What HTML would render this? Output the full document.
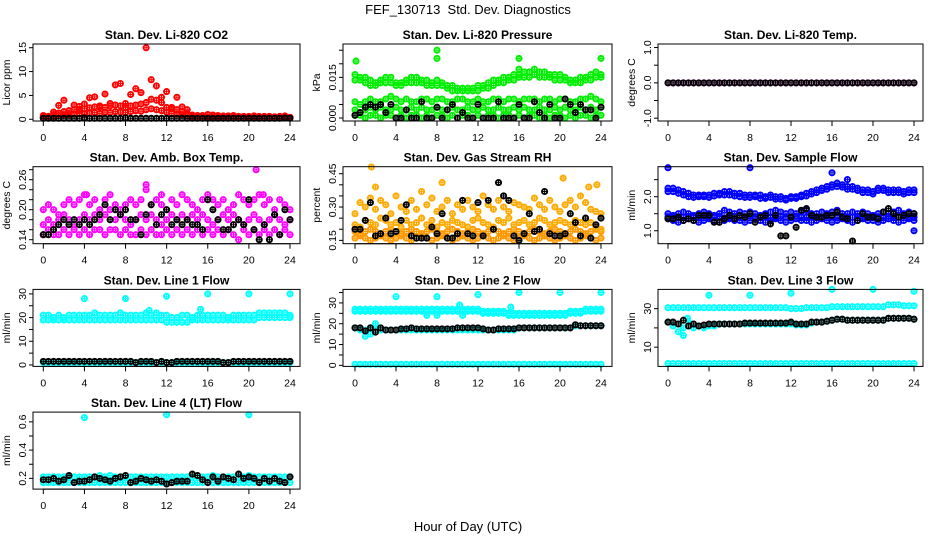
<!DOCTYPE html>
<html><head><meta charset="utf-8"><style>
html,body{margin:0;padding:0;background:#fff}
svg{display:block;font-family:"Liberation Sans",sans-serif}
</style></head><body>
<svg id="chart" width="936" height="540" viewBox="0 0 936 540">
<text x="468" y="14" font-size="13" text-anchor="middle">FEF_130713&#160; Std. Dev. Diagnostics</text>
<text x="468" y="531" font-size="13" text-anchor="middle">Hour of Day (UTC)</text>
</svg>
<script>
const hours=[0,0.5,1,1.5,2,2.5,3,3.5,4,4.5,5,5.5,6,6.5,7,7.5,8,8.5,9,9.5,10,10.5,11,11.5,12,12.5,13,13.5,14,14.5,15,15.5,16,16.5,17,17.5,18,18.5,19,19.5,20,20.5,21,21.5,22,22.5,23,23.5,24];
const xTicks=[0,4,8,12,16,20,24];
// CO2
const co2RedHi=[0.8,0.6,1.5,2.9,4.0,1.8,3.0,2.7,3.2,4.5,4.7,2.8,5.3,3.3,7.2,7.5,3.3,5.2,6.4,5.6,15.0,8.3,7.0,4.6,5.8,2.5,4.6,2.6,2.0,0.9,0.8,0.8,1.0,0.9,0.8,0.7,0.7,0.8,0.6,0.6,0.6,0.7,0.6,0.6,0.6,0.5,0.6,0.7,0.4];
const co2RedMid=[0.5,0.6,1.0,1.3,1.6,1.8,2.0,2.0,2.2,2.4,2.6,2.5,2.5,2.8,3.0,2.8,2.5,2.8,3.0,3.2,3.5,4.2,4.0,3.5,2.5,2.2,2.0,1.6,1.2,0.6,0.5,0.5,0.5,0.5,0.5,0.5,0.5,0.5,0.5,0.5,0.5,0.5,0.5,0.5,0.5,0.5,0.5,0.5,0.4];
const co2RedLo=[0.3,0.4,0.6,0.8,0.9,1.0,1.1,1.2,1.1,1.3,1.4,1.2,1.5,1.4,1.6,1.5,1.4,1.6,1.8,1.7,2.0,2.2,2.0,1.8,1.5,1.2,1.1,0.9,0.7,0.4,0.3,0.3,0.3,0.3,0.3,0.3,0.3,0.3,0.3,0.3,0.3,0.3,0.3,0.3,0.3,0.3,0.3,0.3,0.3];
const co2Black=[0.2,0.2,0.2,0.2,0.2,0.2,0.2,0.2,0.3,0.2,0.2,0.2,0.2,0.2,0.2,0.2,0.3,0.2,0.2,0.2,0.2,0.2,0.2,0.2,0.2,0.2,0.2,0.2,0.2,0.2,0.2,0.2,0.2,0.2,0.2,0.2,0.2,0.2,0.2,0.2,0.2,0.2,0.2,0.2,0.2,0.2,0.2,0.3,0.2];
// Pressure (Pa; axis in kPa)
const presUpA=[16,15,15,14,13,14,15,15,13,13,14,15,15,14,14,13,14,13,12,12,11,11,11,11,12,12,13,14,14,15,15,16,16,17,17,18,17,17,16,16,16,15,14,14,15,15,16,17,16];
const presUpB=[14,14,13,12,12,13,13,13,12,12,13,13,13,13,12,12,12,12,11,10,10,10,10,10,10,11,11,12,13,13,14,14,15,15,15,16,15,15,15,14,14,14,13,13,13,14,14,15,15];
const presLoA=[6,5,6,7,6,6,7,8,7,6,7,6,6,7,7,6,7,7,6,6,7,7,6,6,7,6,6,7,7,6,7,7,6,7,7,7,6,7,7,6,7,7,6,6,7,7,8,7,6];
const presLoB=[3,2,3,4,3,4,3,3,4,3,3,4,3,4,3,3,4,3,3,4,3,3,4,3,3,4,3,3,4,3,3,4,3,4,3,3,4,3,3,4,3,4,3,3,4,3,4,3,4];
const presLoC=[1,1,0,1,1,0,1,1,0,1,0,1,1,0,1,0,1,1,0,1,0,1,1,0,1,0,1,1,0,1,1,0,1,0,1,1,0,1,0,1,1,0,1,0,1,1,0,1,1];
const presBlack=[1,2,4,5,4,5,2,5,0,0,3,0,0,6,0,0,4,0,3,5,0,2,0,0,5,0,0,0,6,0,0,0,5,0,0,6,2,0,5,0,0,7,5,2,5,3,3,0,4];
const presOutX=[0.1,8,8,16,16,24];
const presOutY=[21,25,22,22,18,22];
// Li-820 temp
const tempMag=[0,0,0,0,0,0,0,0,0,0,0,0,0,0,0,0,0,0,0,0,0,0,0,0,0,0,0,0,0,0,0,0,0,0,0,0,0,0,0,0,0,0,0,0,0,0,0,0,0];
const tempBlack=[0,0,0,0,0,0,0,0,0,0,0,0,0,0,0,0,0,0,0,0,0,0,0,0,0,0,0,0,0,0,0,0,0,0,0,0,0,0,0,0,0,0,0,0,0,0,0,0,0];
// Amb box temp
const ambHi=[.20,.21,.20,.19,.21,.22,.21,.22,.23,.21,.22,.20,.22,.23,.21,.20,.21,.22,.21,.22,.24,.21,.22,.21,.20,.22,.21,.23,.22,.21,.20,.22,.23,.22,.21,.22,.20,.21,.23,.22,.21,.22,.23,.21,.22,.20,.22,.21,.20];
const ambMid=[.17,.18,.17,.18,.19,.18,.17,.18,.19,.18,.19,.18,.19,.20,.18,.19,.18,.17,.18,.19,.18,.19,.18,.17,.18,.19,.18,.19,.18,.19,.18,.19,.18,.17,.18,.19,.18,.19,.18,.17,.18,.19,.18,.17,.18,.19,.18,.17,.18];
const ambLo=[.15,.16,.15,.15,.16,.15,.16,.15,.16,.15,.16,.16,.15,.16,.16,.15,.16,.15,.15,.16,.15,.16,.15,.15,.16,.15,.16,.15,.16,.15,.16,.15,.16,.15,.16,.15,.16,.15,.14,.16,.15,.16,.15,.16,.15,.16,.15,.16,.15];
const ambBlack=[.15,.15,.16,.17,.18,.17,.18,.17,.18,.17,.18,.19,.21,.18,.20,.19,.20,.18,.18,.15,.19,.21,.17,.19,.20,.17,.18,.17,.18,.17,.17,.16,.22,.20,.18,.16,.16,.17,.18,.17,.22,.16,.14,.17,.14,.19,.15,.20,.18];
const ambOutX=[4.2,10,11.5,20.7,21.4];
const ambOutY=[.23,.25,.23,.28,.23];
// Gas stream RH
const rhHi=[.27,.32,.30,.34,.29,.33,.31,.27,.35,.30,.28,.33,.29,.37,.31,.34,.28,.30,.33,.27,.31,.29,.33,.30,.28,.35,.31,.29,.33,.30,.28,.32,.31,.30,.29,.34,.31,.29,.33,.30,.28,.31,.33,.30,.35,.32,.29,.28,.27];
const rhMid=[.22,.21,.24,.23,.22,.25,.24,.22,.23,.21,.24,.22,.23,.25,.22,.24,.21,.23,.22,.24,.23,.22,.21,.24,.25,.23,.22,.21,.24,.23,.25,.22,.23,.24,.22,.23,.25,.24,.22,.23,.24,.23,.22,.24,.23,.22,.23,.21,.20];
const rhLoA=[.19,.18,.19,.20,.19,.18,.19,.20,.19,.18,.19,.20,.19,.18,.19,.20,.19,.18,.19,.20,.19,.18,.19,.20,.19,.18,.19,.20,.19,.18,.19,.20,.19,.18,.19,.20,.19,.18,.19,.20,.19,.18,.19,.20,.19,.18,.19,.20,.19];
const rhLoB=[.16,.17,.16,.15,.16,.17,.16,.15,.16,.17,.16,.15,.16,.17,.16,.15,.16,.17,.16,.15,.16,.17,.16,.15,.16,.17,.16,.15,.16,.17,.16,.15,.16,.17,.16,.15,.16,.17,.16,.15,.16,.17,.16,.15,.16,.17,.16,.15,.16];
const rhBlack=[.20,.20,.24,.32,.17,.18,.25,.18,.19,.24,.31,.17,.16,.16,.16,.21,.18,.27,.16,.16,.18,.33,.18,.17,.32,.17,.33,.20,.41,.35,.33,.17,.15,.18,.27,.19,.20,.37,.18,.17,.17,.18,.27,.23,.17,.25,.16,.22,.25];
const rhOutX=[1.6,2,8.5,20.3,22.8,23.6];
const rhOutY=[.48,.39,.41,.43,.39,.40];
// Sample flow
const sfHiA=[2.25,2.25,2.2,2.15,2.1,2.05,2.05,2.05,2.05,2.1,2.1,2.15,2.15,2.1,2.1,2.05,2.05,2.05,2.05,2.0,2.05,2.0,2.0,1.95,2.0,2.0,2.05,2.1,2.15,2.2,2.25,2.3,2.35,2.4,2.35,2.3,2.3,2.25,2.2,2.2,2.15,2.25,2.25,2.2,2.2,2.2,2.15,2.2,2.2];
const sfHiB=[2.15,2.15,2.1,2.05,2.0,1.98,2.0,2.0,1.98,2.02,2.05,2.05,2.05,2.02,2.0,1.98,1.98,2.0,1.95,1.95,1.98,1.93,1.93,1.9,1.95,1.95,2.0,2.02,2.08,2.12,2.18,2.22,2.28,2.3,2.28,2.22,2.22,2.18,2.12,2.12,2.08,2.18,2.18,2.12,2.12,2.12,2.08,2.12,2.12];
const sfLoA=[1.5,1.45,1.5,1.55,1.5,1.45,1.5,1.55,1.5,1.45,1.5,1.6,1.55,1.5,1.55,1.5,1.55,1.5,1.45,1.5,1.55,1.6,1.55,1.5,1.55,1.5,1.55,1.6,1.5,1.5,1.55,1.5,1.55,1.6,1.5,1.5,1.55,1.5,1.55,1.5,1.45,1.5,1.55,1.5,1.55,1.6,1.5,1.55,1.5];
const sfLoB=[1.35,1.3,1.25,1.3,1.35,1.3,1.25,1.3,1.35,1.3,1.25,1.3,1.35,1.3,1.3,1.25,1.3,1.35,1.3,1.25,1.3,1.35,1.3,1.25,1.3,1.35,1.3,1.3,1.25,1.3,1.35,1.3,1.25,1.3,1.35,1.3,1.25,1.3,1.35,1.3,1.3,1.25,1.3,1.35,1.3,1.25,1.3,1.35,1.3];
const sfLoC=[1.4,1.42,1.38,1.4,1.42,1.4,1.38,1.42,1.4,1.4,1.42,1.38,1.4,1.42,1.4,1.38,1.42,1.4,1.4,1.42,1.38,1.4,1.42,1.4,1.38,1.42,1.4,1.4,1.42,1.38,1.4,1.42,1.4,1.38,1.42,1.4,1.4,1.42,1.38,1.4,1.42,1.4,1.38,1.42,1.4,1.4,1.42,1.38,1.4];
const sfBlack=[1.35,1.35,1.4,1.3,1.35,1.3,1.45,1.45,1.45,1.25,1.25,1.35,1.45,1.35,1.45,1.4,1.5,1.25,1.4,1.45,1.2,1.45,0.85,0.85,1.4,1.1,1.6,1.65,1.45,1.4,1.4,1.45,1.45,1.55,1.4,1.35,0.7,1.3,1.5,1.4,1.4,1.35,1.55,1.65,1.5,1.4,1.45,1.5,1.5];
const sfOutX=[0,8,16,17.5,24];
const sfOutY=[2.85,2.85,2.7,2.5,1.0];
// Line 1
const l1HiA=[21,21,20,21,20,21,21,21,21,21,22,21,21,21,21,22,21,21,21,21,22,21,22,21,21,20,20,21,21,20,21,21,21,21,21,21,20,21,21,21,21,21,22,22,22,22,22,22,21];
const l1HiB=[19,19,19,19,19,19,19,19,19,19,19,19,19,19,19,19,19,19,19,19,19,19,19,19,18,18,18,18,18,19,19,19,19,19,19,19,19,19,19,19,19,19,20,20,20,20,20,20,20];
const l1Lo=[1,1,1,1,1,1,1,1,1,1,1,1,1,1,1,1,1,1,1,1,1,1,1,1,1,1,1,1,1,1,1,1,1,1,1,1,1,1,1,1,1,1,1,1,1,1,1,1,1];
const l1Black=[1.5,1.5,1.5,1.5,1.5,1.5,1.5,1.5,1.5,1.5,1.5,1.5,1.5,1.5,1.5,1.5,1.5,1.5,1.0,1.5,1.5,1.5,1.0,1.5,1.0,1.0,1.5,1.5,1.5,1.5,1.5,1.5,1.5,1.5,1.5,1.0,1.0,1.5,1.5,1.5,1.5,1.5,1.5,1.5,1.5,1.5,1.5,1.5,1.5];
const l1OutX=[4,8,12,16,20,24,10.3,15.3];
const l1OutY=[28,28,29,30,30,30,23,23.5];
// Line 2
const l2HiA=[27,27,27,27,27,27,27,27,27,27,27,27,27,27,27,27,27,27,27,27,27,27,27,27,27,26,26,26,26,26,25,25,25,25,25,25,25,25,25,25,25,25,26,26,26,27,27,27,27];
const l2HiB=[26,26,26,26,26,26,26,26,26,26,26,26,26,26,26,26,26,26,26,26,26,26,26,26,26,25,25,25,25,25,24,24,24,24,24,24,24,24,24,24,24,24,25,25,25,26,26,26,26];
const l2Mid=[18,17,17,18,17,17,17,17,17,17,17,17,17,17,17,17,17,17,17,17,17,17,17,17,17,17,17,17,17,17,17,17,18,18,18,18,18,18,18,18,18,18,18,19,19,19,19,19,19];
const l2Lo=[0.5,0.5,0.5,0.5,0.5,0.5,0.5,0.5,0.5,0.5,0.5,0.5,0.5,0.5,0.5,0.5,0.5,0.5,0.5,0.5,0.5,0.5,0.5,0.5,0.5,0.5,0.5,0.5,0.5,0.5,0.5,0.5,0.5,0.5,0.5,0.5,0.5,0.5,0.5,0.5,0.5,0.5,0.5,0.5,0.5,0.5,0.5,0.5,0.5];
const l2Black=[18,18,16.5,18,16,18,17,17,17,17.5,17.5,18,17.5,17.5,17.5,17.5,17.5,17.5,17.5,17.5,18,18,18,18,18,17.5,17,17,17.5,17.5,17.5,17.5,18,18,18,18,18,18,18,18,18,18,18,19.5,19,19,19,19,19];
const l2OutX=[4,8,12,16,20,24,7,8,10.2,10.5,15.2,1,1.5,2];
const l2OutY=[33,33,34,35,35,35,24,24,29,24,28,14,15,20];
// Line 3
const l3Hi=[30.5,30.5,30.5,30.5,30.5,30.5,30.5,30.5,30.5,30.5,30.5,30.5,30.5,30.5,30.5,30.5,30.5,30.5,30.5,30.5,30.5,30.5,30.5,30.5,30,30,30,30.5,30.5,30.5,30.5,30.5,31,31,31,31,31,31,31,31,31,31,31,32,32,32,31.5,31.5,31.5];
const l3Mid=[23,21,22,20,23,20,21,20,21,21,22,22,22,22,22,22,22,22,22,22,22,22,22,22,22,21.5,21.5,21.5,22.5,23,23,23.5,24,24.5,24.5,24,24,24,24,24,24,24,24,25,25,25,25,25,24.5];
const l3Lo=[1.5,1.5,1.5,1.5,1.5,1.5,1.5,1.5,1.5,1.5,1.5,1.5,1.5,1.5,1.5,1.5,1.5,1.5,1.5,1.5,1.5,1.5,1.5,1.5,1.5,1.5,1.5,1.5,1.5,1.5,1.5,1.5,1.5,1.5,1.5,1.5,1.5,1.5,1.5,1.5,1.5,1.5,1.5,1.5,1.5,1.5,1.5,1.5,1.5];
const l3Black=[23,23,22,24,21,22,21,21.5,22,22,22,22,22,22,22,22.5,22.5,22.5,22.5,22.5,22.5,22.5,22.5,22.5,23,22,22,22,23,23,23,23.5,24,24.5,24.5,24,24,24,24,24,24,24,24,25,25,25,25,25,24.5];
const l3OutX=[4,8,12,16,20,24,1,1.5,1.9];
const l3OutY=[37,37,38,40,40,39,18,16,25];
// Line 4
const l4HiA=[.21,.21,.21,.21,.21,.21,.21,.21,.21,.21,.21,.22,.21,.22,.21,.21,.21,.21,.21,.21,.21,.21,.21,.21,.21,.21,.21,.21,.21,.21,.21,.21,.21,.22,.21,.21,.21,.21,.21,.21,.22,.21,.21,.21,.21,.21,.21,.21,.21];
const l4Lo=[.17,.17,.17,.17,.17,.17,.17,.17,.17,.17,.17,.17,.17,.17,.17,.17,.17,.17,.17,.17,.17,.17,.17,.17,.17,.17,.17,.17,.17,.17,.17,.17,.17,.17,.17,.17,.17,.17,.17,.17,.17,.17,.17,.17,.17,.17,.17,.17,.17];
const l4Black=[.19,.19,.20,.18,.19,.22,.17,.18,.18,.19,.21,.20,.19,.18,.20,.21,.22,.17,.18,.20,.19,.18,.19,.18,.16,.17,.18,.18,.18,.23,.22,.19,.17,.21,.18,.21,.20,.19,.23,.20,.21,.20,.17,.20,.18,.20,.18,.17,.21];
const l4OutX=[4,12,20];
const l4OutY=[0.63,0.65,0.65];

const NS='http://www.w3.org/2000/svg';
const svg=document.getElementById('chart');
const cols=[{l:33,r:300,x0:43.3,x24:290},{l:343,r:612,x0:355,x24:601},{l:658,r:923,x0:668,x24:914}];
function mk(tag,attrs,parent){const e=document.createElementNS(NS,tag);for(const k in attrs)e.setAttribute(k,attrs[k]);(parent||svg).appendChild(e);return e;}

const panels=[
 {c:0,r:0,title:'Stan. Dev. Li-820 CO2',ylab:'Licor ppm',vb:-0.36,vt:15.78,ticks:[0,5,10,15],labs:['0','5','10','15'],
  series:[[hours,co2RedLo,'#ff0000'],[hours,co2RedMid,'#ff0000'],[hours,co2RedHi,'#ff0000'],[hours,co2Black,'#000000']]},
 {c:1,r:0,title:'Stan. Dev. Li-820 Pressure',ylab:'kPa',vb:-1.1,vt:27.3,ticks:[0,5,10,15,20,25],labs:['0.000','','','0.015','',''],
  series:[[hours,presUpA,'#00ee00'],[hours,presUpB,'#00ee00'],[hours,presLoA,'#00ee00'],[hours,presLoB,'#00ee00'],[hours,presLoC,'#00ee00'],[presOutX,presOutY,'#00ee00'],[hours,presBlack,'#000000']]},
 {c:2,r:0,title:'Stan. Dev. Li-820 Temp.',ylab:'degrees C',vb:-1.08,vt:1.10,ticks:[-1,-0.5,0,0.5,1],labs:['-1.0','','0.0','','1.0'],
  series:[[hours,tempMag,'#ff00ff'],[hours,tempBlack,'#000000']]},
 {c:0,r:1,title:'Stan. Dev. Amb. Box Temp.',ylab:'degrees C',vb:0.132,vt:0.286,ticks:[.14,.16,.18,.20,.22,.24,.26,.28],labs:['0.14','','','0.20','','','0.26',''],
  series:[[hours,ambLo,'#ff00ff'],[hours,ambMid,'#ff00ff'],[hours,ambHi,'#ff00ff'],[ambOutX,ambOutY,'#ff00ff'],[hours,ambBlack,'#000000']]},
 {c:1,r:1,title:'Stan. Dev. Gas Stream RH',ylab:'percent',vb:0.135,vt:0.4815,ticks:[.15,.20,.25,.30,.35,.40,.45],labs:['0.15','','','0.30','','','0.45'],
  series:[[hours,rhLoB,'#ff9900'],[hours,rhLoA,'#ff9900'],[hours,rhMid,'#ffaa00'],[hours,rhHi,'#ffaa00'],[rhOutX,rhOutY,'#ffaa00'],[hours,rhBlack,'#000000']]},
 {c:2,r:1,title:'Stan. Dev. Sample Flow',ylab:'ml/min',vb:0.62,vt:2.88,ticks:[1.0,1.5,2.0,2.5],labs:['1.0','','2.0',''],
  series:[[hours,sfHiA,'#0000ff'],[hours,sfHiB,'#0000ff'],[hours,sfLoA,'#0000ff'],[hours,sfLoB,'#0000ff'],[hours,sfLoC,'#0000ff'],[sfOutX,sfOutY,'#0000ff'],[hours,sfBlack,'#000000']]},
 {c:0,r:2,title:'Stan. Dev. Line 1 Flow',ylab:'ml/min',vb:-0.6,vt:31.9,ticks:[0,5,10,15,20,25,30],labs:['0','','10','','20','','30'],
  series:[[hours,l1HiA,'#00ffff'],[hours,l1HiB,'#00ffff'],[hours,l1Lo,'#00ffff'],[l1OutX,l1OutY,'#00ffff'],[hours,l1Black,'#000000']]},
 {c:1,r:2,title:'Stan. Dev. Line 2 Flow',ylab:'ml/min',vb:-0.5,vt:36.5,ticks:[0,5,10,15,20,25,30,35],labs:['0','','10','','20','','30',''],
  series:[[hours,l2HiA,'#00ffff'],[hours,l2HiB,'#00ffff'],[hours,l2Mid,'#00ffff'],[hours,l2Lo,'#00ffff'],[l2OutX,l2OutY,'#00ffff'],[hours,l2Black,'#000000']]},
 {c:2,r:2,title:'Stan. Dev. Line 3 Flow',ylab:'ml/min',vb:0,vt:40,ticks:[10,20,30],labs:['10','','30'],
  series:[[hours,l3Hi,'#00ffff'],[hours,l3Mid,'#00ffff'],[hours,l3Lo,'#00ffff'],[l3OutX,l3OutY,'#00ffff'],[hours,l3Black,'#000000']]},
 {c:0,r:3,title:'Stan. Dev. Line 4 (LT) Flow',ylab:'ml/min',vb:0.124,vt:0.669,ticks:[.2,.3,.4,.5,.6],labs:['0.2','','0.4','','0.6'],
  series:[[hours,l4Lo,'#00ffff'],[hours,l4HiA,'#00ffff'],[l4OutX,l4OutY,'#00ffff'],[hours,l4Black,'#000000']]}
];

panels.forEach((p,pi)=>{
  const col=cols[p.c];
  const top=44+p.r*122.7, bot=top+77;
  const g=mk('g',{});
  
  
  const xs=h=>col.x0+(h/24)*(col.x24-col.x0);
  const ys=v=>bot-(v-p.vb)/(p.vt-p.vb)*77;
  const t=mk('text',{x:(col.l+col.r)/2,y:top-5,'font-size':'12','font-weight':'bold','text-anchor':'middle'},g);
  t.textContent=p.title;
  
  
  p.series.forEach(s=>{
    const sg=mk('g',{fill:'none',stroke:s[2],'stroke-width':'1.9'},g);
    
    
    s[0].forEach((h,i)=>{
      const v=s[1][i]; if(v===undefined)return;
      const cx=xs(h), cy=ys(v);
      const c=mk('circle',{cx:cx.toFixed(1),cy:cy.toFixed(1),r:'2.6'},sg);
      
      
      const cr=mk('path',{d:`M${(cx-3).toFixed(1)} ${cy.toFixed(1)}h6M${cx.toFixed(1)} ${(cy-3).toFixed(1)}v6`,'stroke-width':'1'},sg);
      
      
    });
  });
  const box=mk('rect',{x:col.l,y:top,width:col.r-col.l,height:77,fill:'none',stroke:'#000','stroke-width':'1'},g);
  
  
  const xa=mk('g',{stroke:'#000','stroke-width':'1'},g);
  
  
  mk('line',{x1:xs(0),x2:xs(24),y1:bot,y2:bot},xa);
  xTicks.forEach(h=>{
    mk('line',{x1:xs(h),x2:xs(h),y1:bot,y2:bot+5},xa);
    const tl=mk('text',{x:xs(h),y:bot+20,'font-size':'10.5','text-anchor':'middle',stroke:'none',fill:'#000'},xa);
    tl.textContent=String(h);
    
    
  });
  const ya=mk('g',{stroke:'#000','stroke-width':'1'},g);
  
  
  mk('line',{x1:col.l,x2:col.l,y1:ys(p.ticks[0]),y2:ys(p.ticks[p.ticks.length-1])},ya);
  p.ticks.forEach((v,i)=>{
    const y=ys(v);
    mk('line',{x1:col.l-4,x2:col.l,y1:y,y2:y},ya);
    if(p.labs[i]){
      const tl=mk('text',{x:col.l-7,y:y,'font-size':'10.5','text-anchor':'middle',stroke:'none',fill:'#000',transform:`rotate(-90 ${col.l-7} ${y})`},ya);
      tl.textContent=p.labs[i];
      
      
    }
  });
  const yl=mk('text',{x:col.l-23,y:(top+bot)/2,'font-size':'10.5','text-anchor':'middle',transform:`rotate(-90 ${col.l-23} ${(top+bot)/2})`},g);
  yl.textContent=p.ylab;
  
  
});
</script>
</body></html>
